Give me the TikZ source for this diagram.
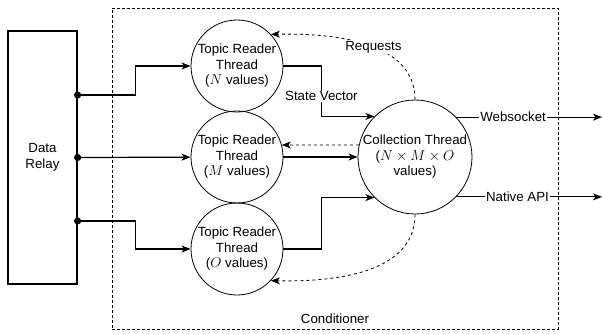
\documentclass[tikz,border=0pt]{standalone}
\usepackage{fontspec}
\setmainfont{Liberation Sans}
\usetikzlibrary{arrows.meta}

\begin{document}
\begin{tikzpicture}[x=1pt,y=-1pt,
    font=\fontsize{13.3}{15.5}\selectfont,
    reader/.style={draw,circle,line width=0.8pt,inner sep=0pt,minimum size=92pt,align=center},
    conn/.style={line width=1.2pt,-{Stealth[length=9pt,width=7pt,inset=2.5pt]}},
    dconn/.style={line width=0.8pt,dashed,-{Stealth[length=9pt,width=7pt,inset=2.5pt]}},
    lbl/.style={fill=white,inner sep=1pt}]
  \useasboundingbox (0,0) rectangle (602,333);

  \node[draw,dash pattern=on 3pt off 2pt,line width=0.8pt,minimum width=446pt,minimum height=321pt] (cond) at (335,168.5) {};
  \node[above=2pt] (condlbl) at (cond.south) {Conditioner};

  \node[draw,line width=1.2pt,minimum width=69pt,minimum height=253pt,align=center] (relay) at (42.5,157.5) {Data\\Relay};
  \path (relay.east) ++(0,-62.5) coordinate (dn);
  \path (relay.east) coordinate (dm);
  \path (relay.east) ++(0,63.5) coordinate (do);

  \foreach \n/\y/\v in {n/66/N, m/157/M, o/249/O}
    \node[reader] (r\n) at (237,\y) {Topic Reader\\Thread\\($\v$ values)};

  \node[draw,circle,line width=0.8pt,inner sep=0pt,minimum size=114pt,align=center] (ct) at (415,157) {Collection Thread\\($N\times M\times O$\\values)};

  \foreach \d in {dn,dm,do}
    \fill (\d) circle (3.6pt);

  \draw[conn] (dn) -- ++(58,0) |- (rn);
  \draw[conn] (dm) -- (rm);
  \draw[conn] (do) -- ++(58,0) |- (ro);

  \draw[conn] (rn.east) -- ++(38,0) |- node[lbl,pos=0.3] (svlbl) {State Vector} (ct.135);
  \draw[conn] (rm.east) -- (ct.west);
  \draw[conn] (ro.east) -- ++(38,0) |- (ct.225);
  \draw[dconn] (ct.168) -- (rm.15);

  \draw[dconn] (ct.north) .. controls (415,40) and (330,33) .. node[lbl,pos=0.45] (reqlbl) {Requests} (rn.43);
  \draw[dconn] (ct.south) .. controls (415,275) and (330,282) .. (ro.-43);

  % outputs leave the picture on the right
  \coordinate (outx) at (602,0);
  \draw[conn] (ct.44) -- node[lbl,pos=0.39] (wslbl) {Websocket} (ct.44 -| outx);
  \draw[conn] (ct.-44) -- node[lbl,pos=0.42] (apilbl) {Native API} (ct.-44 -| outx);
\end{tikzpicture}
\end{document}
